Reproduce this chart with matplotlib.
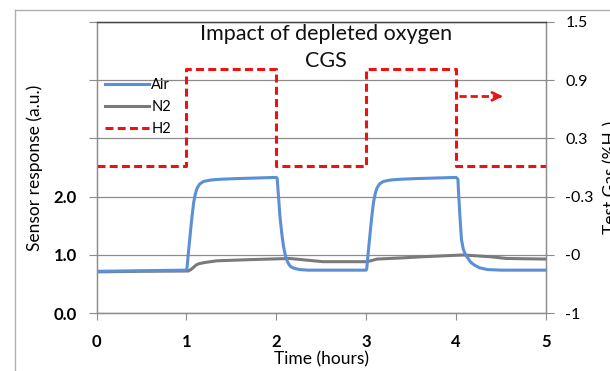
import matplotlib
matplotlib.use("Agg")
import matplotlib.pyplot as plt
from matplotlib.lines import Line2D

plt.rcParams['font.family'] = ['Lato', 'DejaVu Sans']

# Air response (a.u.)
air_t = [0, 0.5, 1.0, 1.007, 1.026, 1.044, 1.063, 1.081, 1.10, 1.12, 1.15, 1.19, 1.25, 1.30,
         1.40, 1.56, 2.0,
         2.01, 2.02, 2.04, 2.06, 2.08, 2.10, 2.12, 2.14, 2.16, 2.20, 2.26, 2.35, 2.6, 3.0,
         3.007, 3.026, 3.044, 3.063, 3.081, 3.10, 3.12, 3.15, 3.19, 3.25, 3.30,
         3.40, 3.56, 4.0,
         4.02, 4.03, 4.045, 4.06, 4.08, 4.10, 4.12, 4.16, 4.20, 4.26, 4.35, 4.5, 5.0]
air_v = [0.72, 0.73, 0.74, 0.78, 1.10, 1.38, 1.67, 1.90, 2.05, 2.15, 2.22, 2.26, 2.28, 2.29,
         2.30, 2.31, 2.33,
         2.31, 2.10, 1.67, 1.38, 1.15, 1.00, 0.90, 0.84, 0.80, 0.77, 0.75, 0.74, 0.74, 0.74,
         0.78, 1.10, 1.38, 1.67, 1.90, 2.05, 2.15, 2.22, 2.26, 2.28, 2.29,
         2.30, 2.31, 2.33,
         2.30, 2.00, 1.60, 1.26, 1.10, 1.02, 0.97, 0.88, 0.83, 0.78, 0.75, 0.74, 0.74]

# N2 response (a.u.)
n2_t = [0, 0.5, 1.0, 1.02, 1.05, 1.08, 1.11, 1.14, 1.20, 1.34, 1.7, 2.15, 2.35, 2.52,
        3.0, 3.05, 3.12, 3.4, 3.63, 4.08, 4.38, 4.56, 5.0]
n2_v = [0.71, 0.72, 0.725, 0.725, 0.75, 0.79, 0.83, 0.85, 0.87, 0.90, 0.92, 0.94, 0.91, 0.885,
        0.885, 0.90, 0.93, 0.95, 0.97, 1.0, 0.97, 0.94, 0.93]

# H2 test gas, right axis
h2_t = [0, 1, 1, 2, 2, 3, 3, 4, 4, 5]
h2_v = [0.265, 0.265, 1.095, 1.095, 0.265, 0.265, 1.095, 1.095, 0.265, 0.265]

left_ticks = [0, 1, 2, 3, 4, 5]
left_labels = ['0.0', '1.0', '2.0', '', '', '']
right_ticks = [-1, -0.5, 0, 0.5, 1.0, 1.5]
right_labels = ['-1', '-0', '-0.3', '0.3', '0.9', '1.5']
x_ticks = [0, 1, 2, 3, 4, 5]

blue = '#5b8fd6'
grey = '#7a7a7a'
red = '#ee1111'
axis_grey = '#8c8c8c'

fig = plt.figure(figsize=(6.10, 3.71), dpi=100)
ax = fig.add_axes([96.5 / 610, 1 - 313.3 / 371, (546 - 96.5) / 610, (313.3 - 21.7) / 371])
ax2 = ax.twinx()

ax.set_xlim(0, 5)
ax.set_ylim(0, 5)
ax2.set_ylim(-1, 1.5)

ax.set_yticks(left_ticks)
ax.set_yticklabels(left_labels, fontweight='bold', fontsize=12)
ax.set_xticks(x_ticks)
ax.set_xticklabels([str(t) for t in x_ticks], fontweight='bold', fontsize=12)
ax2.set_yticks(right_ticks)
ax2.set_yticklabels(right_labels, fontsize=11.5)

ax.grid(axis='y', color=axis_grey, lw=0.9)
ax.set_axisbelow(True)

for a in (ax, ax2):
    for s in ('left', 'right', 'bottom'):
        a.spines[s].set_color(axis_grey)
        a.spines[s].set_linewidth(0.9)
    a.spines['top'].set_color('#444444')
    a.spines['top'].set_linewidth(0.9)
ax.tick_params(axis='y', length=6, color=axis_grey, pad=8)
ax.tick_params(axis='x', length=5, color=axis_grey, pad=10)
ax2.tick_params(axis='y', length=6, color=axis_grey, pad=8)

ax.plot(air_t, air_v, color=blue, lw=2.2, label='Air', zorder=3)
ax.plot(n2_t, n2_v, color=grey, lw=2.2, label='N2', zorder=2)
ax2.plot(h2_t, h2_v, color=red, lw=2.2, ls=(0, (2.6, 1.4)))

# arrow pointing to the right axis
ax2.plot([4.03, 4.47], [0.86, 0.86], color=red, lw=2.0, ls=(0, (2.6, 1.4)))
ax2.annotate('', xy=(4.55, 0.86), xytext=(4.43, 0.86),
             arrowprops=dict(arrowstyle='->', color=red, lw=2.0, mutation_scale=14))

handles = [Line2D([], [], color=blue, lw=2.2),
           Line2D([], [], color=grey, lw=2.2),
           Line2D([], [], color=red, lw=2.2, ls=(0, (2.6, 1.4)))]
ax.legend(handles, ['Air', 'N2', 'H2'], loc='upper left', frameon=False,
          bbox_to_anchor=(0.0, 1 - 48 / 291.6), fontsize=10.5, handlelength=3.0,
          handletextpad=0.15, labelspacing=0.55, borderaxespad=0.2)

ax.text(2.55, 4.56, 'Impact of depleted oxygen\nCGS', ha='center', va='center',
        fontsize=15.5, linespacing=1.42, color='#111111')

ax.set_xlabel('Time (hours)', fontsize=12.5, labelpad=1)
ax.set_ylabel('Sensor response (a.u.)', fontsize=12.5, labelpad=8)
fig.text(603 / 610, 1 - 177 / 371, 'Test Gas (%H\u2082)', rotation=90, ha='left',
         va='center', fontsize=12.5)

# outer chart frame
fig.add_artist(Line2D([15 / 610, 15 / 610], [0, 1 - 10 / 371], color='#b0b0b0', lw=1))
fig.add_artist(Line2D([15 / 610, 1], [1 - 10 / 371, 1 - 10 / 371], color='#b0b0b0', lw=1))

fig.savefig('out.png', dpi=100)
